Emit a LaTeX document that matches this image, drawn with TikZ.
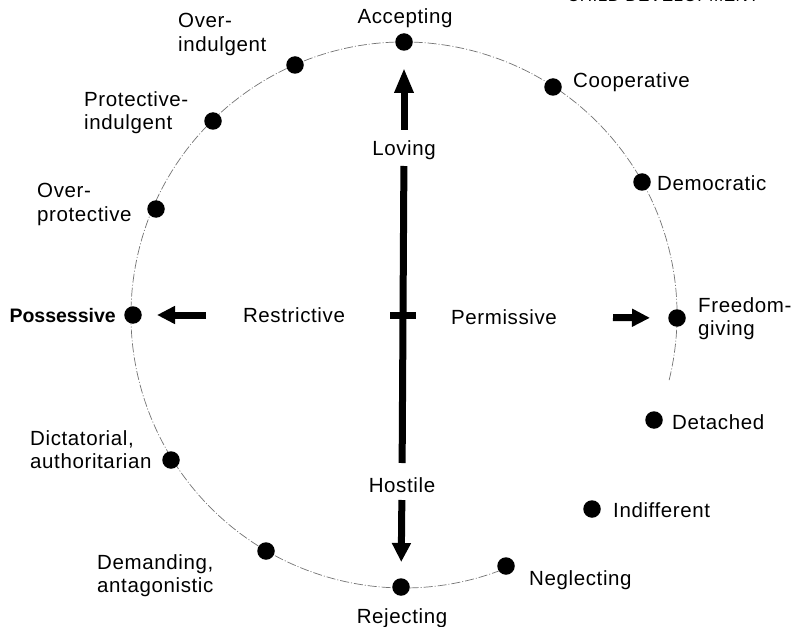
\documentclass[tikz,border=0pt]{standalone}
\usepackage{fontspec}
\setmainfont[LetterSpace=3]{Liberation Sans}
\newfontfamily\possfont{Liberation Sans}
\usetikzlibrary{arrows.meta}
\begin{document}
\begin{tikzpicture}[x=1bp,y=-1bp,
  dot/.style={circle,fill=black,inner sep=0pt,minimum size=17.5bp},
  lbl/.style={inner sep=0pt,font=\fontsize{20.5bp}{23.5bp}\selectfont,text height=15bp,text depth=0pt},
  lw/.style={lbl,anchor=west},
  ml/.style={inner sep=0pt,font=\fontsize{20.5bp}{23.5bp}\selectfont,align=left,anchor=north west},
  ring/.style={draw=black!55,line width=0.7bp,dash pattern=on 9bp off 2bp on 1bp off 2bp},
  shaft/.style={line width=7bp}]
\useasboundingbox (0,0) rectangle (797,627);
\clip (0,0) rectangle (797,627);
\coordinate (O) at (404,315);
\draw[ring] (O) ++(13.8:273) arc[start angle=13.8,end angle=-292.1,radius=273];
\node[font=\fontsize{17bp}{20bp}\selectfont,anchor=base,inner sep=0pt] (hdr) at (663,2) {CHILD DEVELOPMENT};
% dots
\node[dot] (acc) at (404,42) {};
\node[dot] (ovind) at (295,65) {};
\node[dot] (protind) at (213,121) {};
\node[dot] (ovprot) at (156,209) {};
\node[dot] (poss) at (133,315) {};
\node[dot] (dict) at (171,460) {};
\node[dot] (dem) at (266,551) {};
\node[dot] (rej) at (401,587) {};
\node[dot] (negl) at (506,566) {};
\node[dot] (indiff) at (592,509) {};
\node[dot] (det) at (654,420) {};
\node[dot] (free) at (677,318) {};
\node[dot] (demo) at (642,182) {};
\node[dot] (coop) at (553,87) {};
% labels
\node[lbl] (lacc) at (405,16) {Accepting};
\node[ml] (lovind) at (178,13) {Over-\\indulgent};
\node[ml] (lprotind) at (84,91) {Protective-\\indulgent};
\node[ml] (lovprot) at (37,183) {Over-\\protective};
\node[lbl,anchor=east,font=\fontsize{19.5bp}{23.5bp}\possfont\bfseries] (lposs) at (116,315) {Possessive};
\node[ml] (ldict) at (30,430) {Dictatorial,\\authoritarian};
\node[ml] (ldem) at (97,554) {Demanding,\\antagonistic};
\node[lbl] (lrej) at (402,616) {Rejecting};
\node[lw] (lnegl) at (529,578) {Neglecting};
\node[lw] (lindiff) at (613,510) {Indifferent};
\node[lw] (ldet) at (672,422) {Detached};
\node[ml] (lfree) at (698,297) {Freedom-\\giving};
\node[lw] (ldemo) at (657,183) {Democratic};
\node[lw] (lcoop) at (573,80) {Cooperative};
\node[lbl] (loving) at (404,148) {Loving};
\node[lbl] (hostile) at (402,485) {Hostile};
\node[lbl] (restr) at (294,315) {Restrictive};
\node[lbl] (perm) at (504,317) {Permissive};
% arrows
\draw[shaft,-{Triangle[width=18bp,length=25bp]},shorten <=18bp,shorten >=26bp] (loving.center) -- (acc.center);
\draw[shaft,shorten <=18bp,shorten >=22bp] (loving.center) -- (hostile.center);
\draw[shaft,-{Triangle[width=18bp,length=19bp]},shorten <=15bp,shorten >=25bp] (hostile.center) -- (rej.center);
\draw[shaft,-{Triangle[width=17bp,length=18bp]},shorten <=88bp,shorten >=24bp] (restr.center) -- (poss.center);
\draw[shaft,-{Triangle[width=17bp,length=18bp]},shorten <=109bp,shorten >=27bp] (perm.center) -- (free.center);
\coordinate (cross) at (403,315);
\draw[line width=7bp] (cross) ++(-13,0) -- ++(26,0);
\end{tikzpicture}
\end{document}
